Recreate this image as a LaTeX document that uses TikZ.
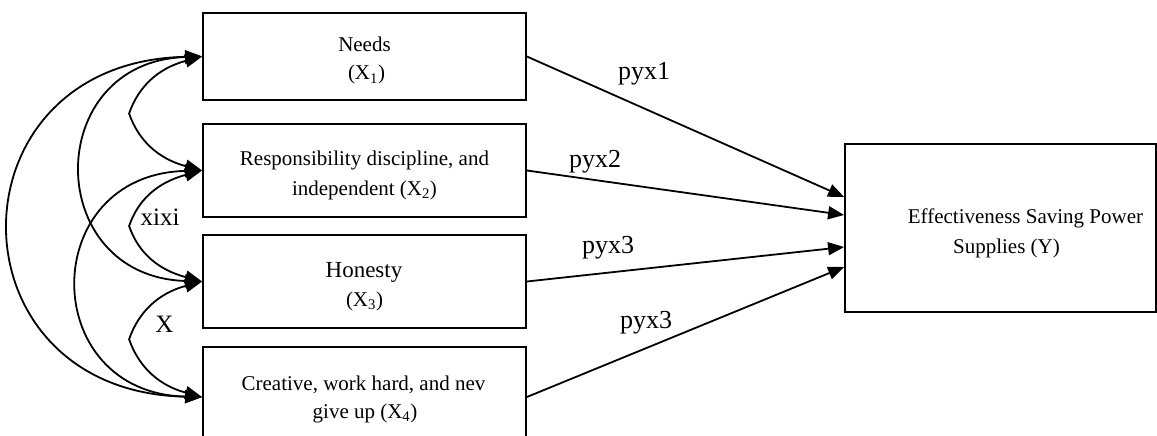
\documentclass[tikz,border=0pt]{standalone}
\usepackage{fontspec}
\setmainfont{Liberation Serif}
\usetikzlibrary{arrows.meta,calc}
\begin{document}
\begin{tikzpicture}[x=1pt,y=-1pt,
  line width=1.8pt,
  box/.style={draw,rectangle,inner sep=0pt,line width=1.8pt},
  lbl/.style={anchor=base,inner sep=0pt,font=\fontsize{21}{25}\selectfont},
  biglbl/.style={anchor=base,inner sep=0pt,font=\fontsize{23}{27}\selectfont},
  coef/.style={anchor=base,inner sep=0pt,font=\fontsize{26}{30}\selectfont},
  corr/.style={anchor=base,inner sep=0pt,font=\fontsize{25}{30}\selectfont},
  arr/.style={-{Triangle[length=16pt,width=13pt]}},
  dbl/.style={{Triangle[length=17pt,width=13pt]}-{Triangle[length=17pt,width=13pt]}}
]
\useasboundingbox (0,0) rectangle (1157,436);
\clip (0,0) rectangle (1157,436);

% boxes
\node[box, minimum width=323pt, minimum height=87pt] (b1) at (364.5,56.5) {};
\node[box, minimum width=323pt, minimum height=93pt] (b2) at (364.5,170.5) {};
\node[box, minimum width=323pt, minimum height=93pt] (b3) at (364.5,281.5) {};
\node[box, minimum width=323pt, minimum height=100pt] (b4) at (364.5,397) {};
\node[box, minimum width=311pt, minimum height=168pt] (by) at (1000.5,228) {};

% box texts
\node[lbl] (t1a) at (364.5,52) {Needs};
\node[lbl] (t1b) at (366.5,80) {(X\textsubscript{1})};
\node[lbl] (t2a) at (364.5,165) {Responsibility discipline, and};
\node[lbl] (t2b) at (364.5,195) {independent (X\textsubscript{2})};
\node[biglbl] (t3a) at (364,277) {Honesty};
\node[lbl] (t3b) at (364.5,306) {(X\textsubscript{3})};
\node[lbl] (t4a) at (363.5,390) {Creative, work hard, and nev};
\node[lbl] (t4b) at (365,418) {give up (X\textsubscript{4})};
\node[lbl] (tya) at (1025.5,223) {Effectiveness Saving Power};
\node[lbl] (tyb) at (1006.5,253) {Supplies (Y)};

% turning points of the short correlation curves
\coordinate (m12) at ($(b1.west)!0.5!(b2.west)+(-73,0)$);
\coordinate (m23) at ($(b2.west)!0.5!(b3.west)+(-73,0)$);
\coordinate (m34) at ($(b3.west)!0.5!(b4.west)+(-73,0)$);

% correlation curves
\draw[dbl] (b1.west) .. controls +(-45,12) and +(9,-26) .. (m12)
                     .. controls +(9,26) and +(-45,-12) .. (b2.west);
\draw[dbl] (b2.west) .. controls +(-45,12) and +(9,-26) .. (m23)
                     .. controls +(9,26) and +(-45,-12) .. (b3.west);
\draw[dbl] (b3.west) .. controls +(-45,12) and +(9,-26) .. (m34)
                     .. controls +(9,26) and +(-45,-12) .. (b4.west);
\draw[dbl] (b1.west) .. controls +(-160,5) and +(-160,-5) .. (b3.west);
\draw[dbl] (b2.west) .. controls +(-165,4) and +(-165,-4) .. (b4.west);
\draw[dbl] (b1.west) .. controls +(-256,5) and +(-256,-5) .. (b4.west);

\node[corr] (cxi) at (160,225) {xixi};
\node[corr] (cx) at (164.5,332) {X};

% path arrows
\draw[arr] (b1.east) -- ($(by.west)+(0,-31)$);
\draw[arr] (b2.east) -- ($(by.west)+(0,-13)$);
\draw[arr] (b3.east) -- ($(by.west)+(0,19)$);
\draw[arr] (b4.east) -- ($(by.west)+(0,39)$);

\node[coef] (p1) at (644,80) {pyx1};
\node[coef] (p2) at (595,167) {pyx2};
\node[coef] (p3) at (608,253) {pyx3};
\node[coef] (p4) at (646,328) {pyx3};
\end{tikzpicture}
\end{document}
